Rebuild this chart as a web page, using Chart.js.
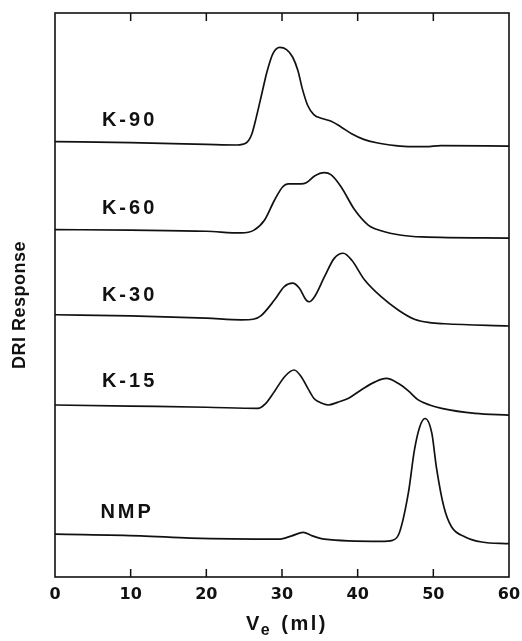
<!DOCTYPE html>
<html>
<head>
<meta charset="utf-8">
<script src="https://cdn.jsdelivr.net/npm/chart.js@4/dist/chart.umd.min.js"></script>
<style>
  html, body { margin: 0; padding: 0; background: #fff; }
  #wrap { width: 522px; height: 641px; position: relative; }
</style>
</head>
<body>
<div id="wrap"><canvas id="gpc"></canvas></div>
<script>
// elution volume (ml) and DRI response (arbitrary units, traces stacked)
const k90Ve = [0, 10, 20, 24, 25.3, 26.0, 26.6, 27.3, 28.0, 28.8, 29.7, 30.6, 31.4, 32.1, 32.7, 33.4, 34.2, 35.3, 36.5, 37.8, 39.2, 40.8, 42.5, 45, 47, 49, 51, 60];
const k90Dri = [77.2, 77.0, 76.7, 76.6, 77.0, 78.5, 81.5, 85.5, 89.5, 92.8, 93.9, 93.5, 92.2, 89.8, 86.5, 83.6, 82.0, 81.3, 80.8, 79.8, 78.6, 77.6, 77.0, 76.5, 76.3, 76.3, 76.5, 76.4];

const k60Ve = [0, 10, 20, 24.6, 26.3, 27.7, 29.0, 30.1, 30.8, 32.5, 33.2, 34.3, 35.6, 36.5, 37.8, 39.6, 41.4, 43.1, 45.8, 48.5, 60];
const k60Dri = [61.6, 61.5, 61.3, 61.0, 61.5, 63.3, 66.8, 69.2, 69.7, 69.7, 69.9, 71.1, 71.7, 71.3, 69.2, 65.1, 62.4, 61.4, 60.6, 60.3, 60.1];

const k30Ve = [0, 10, 20, 24.6, 26.2, 27.2, 29.0, 30.3, 31.4, 32.3, 33.2, 33.6, 34.3, 35.6, 36.9, 38.1, 39.2, 40.9, 43.1, 45.4, 47.5, 49.5, 51.5, 60];
const k30Dri = [46.5, 46.3, 45.9, 45.6, 45.7, 46.3, 49.1, 51.5, 52.1, 51.2, 49.1, 48.8, 49.7, 53.2, 56.5, 57.4, 56.2, 52.7, 49.7, 47.3, 45.7, 45.1, 44.9, 44.5];

const k15Ve = [0, 10, 20, 26.8, 27.8, 29.0, 30.4, 31.6, 32.5, 33.4, 34.2, 34.8, 36.1, 37.4, 38.8, 40.5, 42.3, 43.8, 45.4, 46.7, 48.0, 49.5, 51.1, 55.5, 60];
const k15Dri = [30.5, 30.3, 30.1, 29.9, 30.7, 32.9, 35.6, 36.7, 35.6, 33.5, 31.7, 31.1, 30.5, 31.0, 31.7, 33.2, 34.6, 35.2, 34.3, 33.0, 31.4, 30.5, 29.9, 29.0, 28.7];

const nmpVe = [0, 11.3, 17.9, 29.6, 31.3, 32.8, 34.0, 35.6, 43.1, 44.6, 45.5, 46.7, 47.5, 48.2, 48.9, 49.8, 50.4, 51.4, 52.4, 54.2, 56.4, 60];
const nmpDri = [7.6, 7.3, 6.9, 6.7, 7.3, 7.9, 7.3, 6.7, 6.3, 6.5, 7.8, 14.9, 22.5, 26.6, 28.1, 25.5, 19.5, 12.4, 8.9, 7.1, 6.2, 5.9];

const sampleNames = ['K-90', 'K-60', 'K-30', 'K-15', 'NMP'];
const xTicks = [0, 10, 20, 30, 40, 50, 60];

// where each trace name sits (ml, response)
const nameSpots = [[6.2, 81.0], [6.2, 65.4], [6.2, 50.0], [6.2, 34.6], [6.0, 11.5]];

const traces = [[k90Ve, k90Dri], [k60Ve, k60Dri], [k30Ve, k30Dri], [k15Ve, k15Dri], [nmpVe, nmpDri]];

const datasets = traces.map((t, i) => ({
  label: sampleNames[i],
  data: t[0].map((v, j) => ({ x: v, y: t[1][j] })),
  borderColor: '#111',
  borderWidth: 1.7,
  pointRadius: 0,
  fill: false,
  cubicInterpolationMode: 'monotone'
}));

// frame with inward ticks, trace names and both axis titles
const decorations = {
  id: 'decorations',
  afterDraw(chart) {
    const ctx = chart.ctx;
    const a = chart.chartArea;
    const xs = chart.scales.x, ys = chart.scales.y;
    ctx.save();
    ctx.strokeStyle = '#111';
    ctx.lineWidth = 1.6;
    ctx.strokeRect(a.left, a.top, a.right - a.left, a.bottom - a.top);
    ctx.lineWidth = 1.5;
    xTicks.slice(1, -1).forEach(v => {
      const px = xs.getPixelForValue(v);
      ctx.beginPath();
      ctx.moveTo(px, a.bottom);
      ctx.lineTo(px, a.bottom - 8);
      ctx.moveTo(px, a.top);
      ctx.lineTo(px, a.top + 8);
      ctx.stroke();
    });

    ctx.fillStyle = '#111';
    ctx.font = 'bold 20px "Liberation Sans", Arial, sans-serif';
    ctx.letterSpacing = '3px';
    ctx.textBaseline = 'middle';
    ctx.textAlign = 'left';
    sampleNames.forEach((name, i) => {
      const p = nameSpots[i];
      ctx.fillText(name, xs.getPixelForValue(p[0]), ys.getPixelForValue(p[1]));
    });

    // y axis title
    ctx.save();
    ctx.translate(20, (a.top + a.bottom) / 2 + 10);
    ctx.rotate(-Math.PI / 2);
    ctx.font = 'bold 18px "Liberation Sans", Arial, sans-serif';
    ctx.letterSpacing = '0.5px';
    ctx.textAlign = 'center';
    ctx.fillText('DRI Response', 0, 0);
    ctx.restore();

    // x axis title with subscript e
    ctx.letterSpacing = '2.5px';
    const big = 'bold 20px "Liberation Sans", Arial, sans-serif';
    const small = 'bold 16px "Liberation Sans", Arial, sans-serif';
    ctx.font = big;
    const wV = ctx.measureText('V').width;
    const wRest = ctx.measureText(' (ml)').width;
    ctx.font = small;
    const wE = ctx.measureText('e').width;
    const total = wV + wE + wRest;
    const x0 = (a.left + a.right) / 2 + 5 - total / 2;
    const yT = 630;
    ctx.textBaseline = 'alphabetic';
    ctx.font = big;
    ctx.fillText('V', x0, yT);
    ctx.font = small;
    ctx.fillText('e', x0 + wV - 1, yT + 5);
    ctx.font = big;
    ctx.fillText(' (ml)', x0 + wV + wE, yT);
    ctx.restore();
  }
};

new Chart(document.getElementById('gpc'), {
  type: 'line',
  data: { datasets },
  plugins: [decorations],
  options: {
    responsive: true,
    maintainAspectRatio: false,
    animation: false,
    layout: { padding: { top: 13, right: 13, left: 0, bottom: 0 } },
    plugins: { legend: { display: false }, tooltip: { enabled: false } },
    scales: {
      x: {
        type: 'linear',
        min: 0,
        max: 60,
        afterFit(scale) { scale.height = 64; },
        afterBuildTicks(scale) { scale.ticks = xTicks.map(v => ({ value: v })); },
        grid: { display: false },
        border: { display: false },
        ticks: {
          color: '#111',
          padding: 0,
          maxRotation: 0,
          font: { family: '"DejaVu Sans", sans-serif', weight: 'bold', size: 16 }
        }
      },
      y: {
        type: 'linear',
        min: 0,
        max: 100,
        afterFit(scale) { scale.width = 55; },
        grid: { display: false },
        border: { display: false },
        ticks: { display: false }
      }
    }
  }
});
</script>
</body>
</html>
